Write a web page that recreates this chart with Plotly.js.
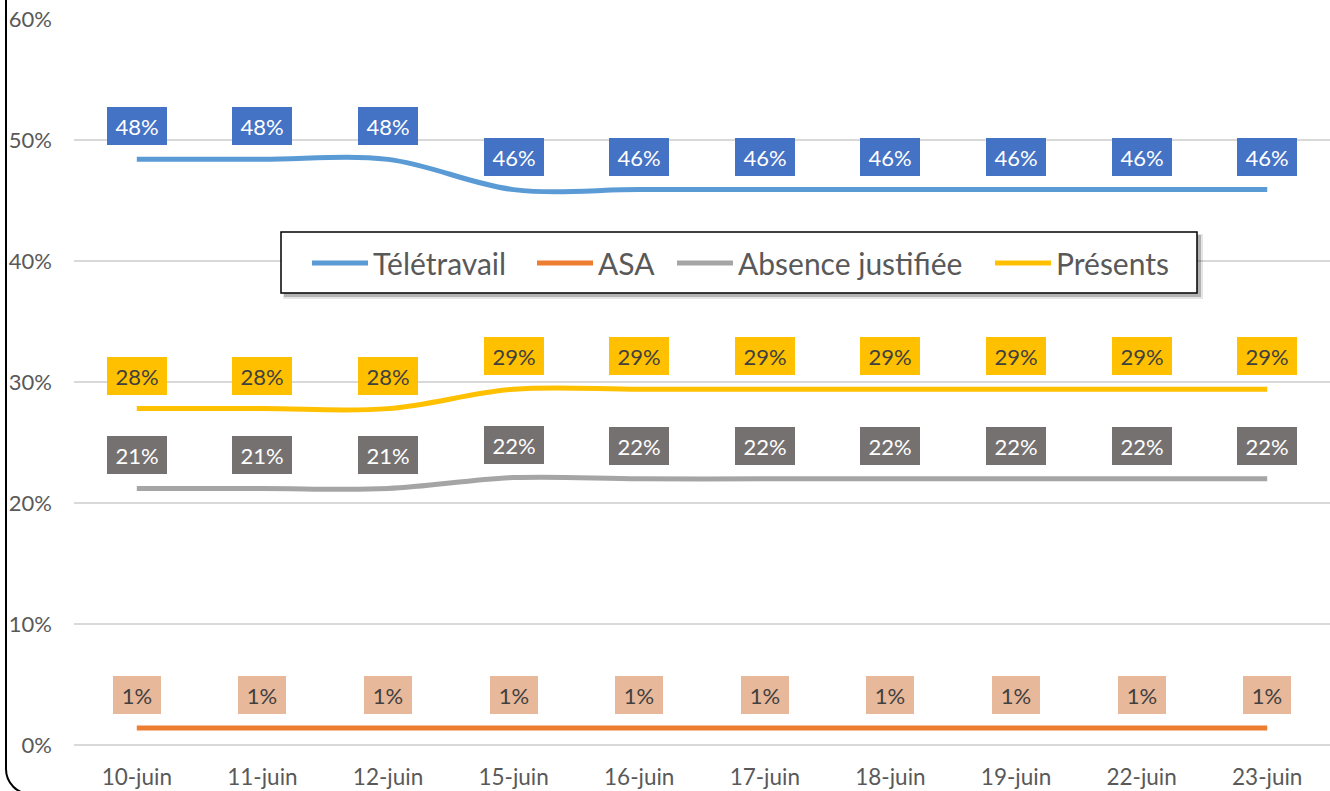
<!DOCTYPE html>
<html>
<head>
<meta charset="utf-8">
<script src="https://cdn.plot.ly/plotly-3.0.1.min.js"></script>
<style>
  html, body { margin: 0; padding: 0; background: #fff; overflow: hidden; }
  #wrap { position: relative; width: 1330px; height: 791px; overflow: hidden; }
  #chart { width: 1330px; height: 791px; }
  #frame { position: absolute; left: 5px; top: -60px; width: 1400px; height: 855px;
           box-sizing: border-box; border: 2px solid #000; border-radius: 26px; pointer-events: none; }
</style>
</head>
<body>
<div id="wrap">
  <div id="chart"></div>
  <div id="frame"></div>
</div>
<script>
// ---- data ----
const dates = ['10-juin', '11-juin', '12-juin', '15-juin', '16-juin', '17-juin', '18-juin', '19-juin', '22-juin', '23-juin'];
const teletravail = [0.484, 0.484, 0.484, 0.459, 0.459, 0.459, 0.459, 0.459, 0.459, 0.459];
const asa        = [0.014, 0.014, 0.014, 0.014, 0.014, 0.014, 0.014, 0.014, 0.014, 0.014];
const absence    = [0.212, 0.212, 0.212, 0.221, 0.220, 0.220, 0.220, 0.220, 0.220, 0.220];
const presents   = [0.278, 0.278, 0.278, 0.294, 0.294, 0.294, 0.294, 0.294, 0.294, 0.294];
const seriesNames = ['Télétravail', 'ASA', 'Absence justifiée', 'Présents'];
const yTickVals = [0, 0.1, 0.2, 0.3, 0.4, 0.5, 0.6];

// ---- styles ----
const FONT = 'Lato, "Open Sans", sans-serif';
const series = [
  { name: seriesNames[0], y: teletravail, line: '#5B9BD5', box: '#4472C4', txt: '#FFFFFF' },
  { name: seriesNames[1], y: asa,         line: '#ED7D31', box: '#E8B89A', txt: '#404040' },
  { name: seriesNames[2], y: absence,     line: '#A5A5A5', box: '#767171', txt: '#FFFFFF' },
  { name: seriesNames[3], y: presents,    line: '#FFC000', box: '#FFC000', txt: '#404040' }
];

const W = 1330, H = 791, ML = 74, MR = 0, MT = 19, MB = 46;
const PW = W - ML - MR, PH = H - MT - MB;
const px = v => (v - ML) / PW;          // pixel x -> paper x
const py = v => (H - MB - v) / PH;      // pixel y -> paper y

const traces = series.map(s => ({
  type: 'scatter', mode: 'lines', name: s.name,
  x: dates, y: s.y,
  line: { color: s.line, width: 5, shape: 'spline', smoothing: 1 },
  hoverinfo: 'skip', showlegend: false
}));

const annotations = [];
series.forEach(s => {
  s.y.forEach((v, i) => {
    const t = Math.round(v * 100) + '%';
    annotations.push({
      x: dates[i], y: v, xref: 'x', yref: 'y',
      text: t, showarrow: false, yshift: 33,
      bgcolor: s.box, borderpad: 1, borderwidth: 0,
      width: t.length * 12 + 22, height: 36,
      font: { family: FONT, size: 22, color: s.txt }
    });
  });
});

// ---- custom legend (box with shadow, line samples, names) ----
const legBox = { x0: 281, x1: 1197, y0: 232, y1: 293 };
const legSampleStarts = [312, 537, 677, 995];
const legSampleLen = 56, legMidY = 263;
const shapes = [
  { type: 'rect', xref: 'paper', yref: 'paper', layer: 'above',
    x0: px(legBox.x0 + 2), x1: px(legBox.x1 + 6), y0: py(legBox.y1 + 6), y1: py(legBox.y0 + 2),
    fillcolor: 'rgba(0,0,0,0.10)', line: { width: 0 } },
  { type: 'rect', xref: 'paper', yref: 'paper', layer: 'above',
    x0: px(legBox.x0 + 3), x1: px(legBox.x1 + 4), y0: py(legBox.y1 + 4), y1: py(legBox.y0 + 3),
    fillcolor: 'rgba(0,0,0,0.22)', line: { width: 0 } },
  { type: 'rect', xref: 'paper', yref: 'paper', layer: 'above',
    x0: px(legBox.x0), x1: px(legBox.x1), y0: py(legBox.y1), y1: py(legBox.y0),
    fillcolor: '#FFFFFF', line: { color: '#000000', width: 1.5 } }
];
series.forEach((s, k) => {
  shapes.push({
    type: 'line', xref: 'paper', yref: 'paper', layer: 'above',
    x0: px(legSampleStarts[k]), x1: px(legSampleStarts[k] + legSampleLen),
    y0: py(legMidY), y1: py(legMidY),
    line: { color: s.line, width: 5 }
  });
  annotations.push({
    xref: 'paper', yref: 'paper', x: px(legSampleStarts[k] + legSampleLen + 3), y: py(legMidY),
    xanchor: 'left', yanchor: 'middle', showarrow: false, text: s.name,
    font: { family: FONT, size: 30, color: '#595959' }
  });
});

const layout = {
  width: W, height: H,
  margin: { l: ML, r: MR, t: MT, b: MB },
  paper_bgcolor: '#FFFFFF', plot_bgcolor: '#FFFFFF',
  showlegend: false,
  xaxis: {
    type: 'category', range: [-0.5, 9.5], showgrid: false, zeroline: false,
    showline: false, ticks: '', ticklabelstandoff: 16,
    tickfont: { family: FONT, size: 22.5, color: '#595959' }, fixedrange: true
  },
  yaxis: {
    range: [0, 0.6], tickvals: yTickVals, tickformat: '.0%',
    showgrid: true, gridcolor: '#D9D9D9', gridwidth: 1.5,
    zeroline: true, zerolinecolor: '#D9D9D9', zerolinewidth: 1.5,
    showline: false, ticks: '', ticklabelstandoff: 21,
    tickfont: { family: FONT, size: 22, color: '#595959' }, fixedrange: true
  },
  shapes: shapes,
  annotations: annotations,
  hovermode: false
};

Plotly.newPlot('chart', traces, layout, { displayModeBar: false, staticPlot: true });
</script>
</body>
</html>
